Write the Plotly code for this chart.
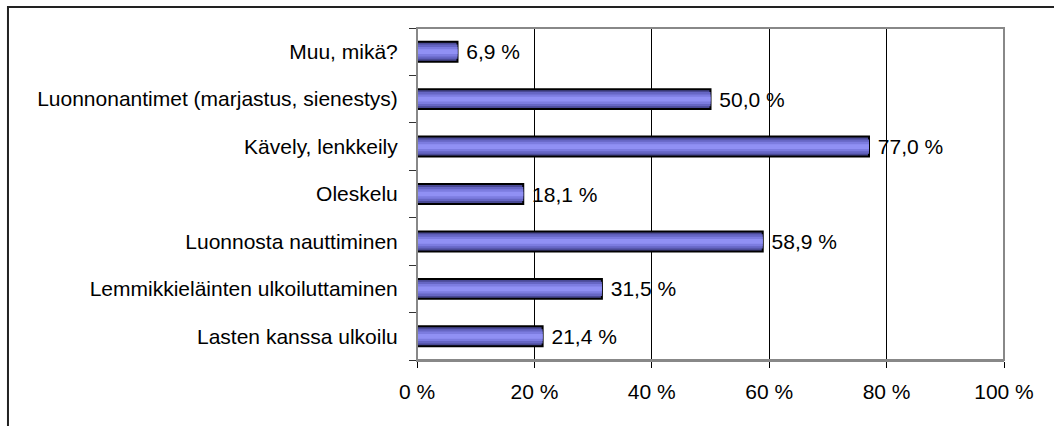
import plotly.graph_objects as go

# Categories listed bottom to top (as they appear on the chart)
categories = [
    'Lasten kanssa ulkoilu',
    'Lemmikkieläinten ulkoiluttaminen',
    'Luonnosta nauttiminen',
    'Oleskelu',
    'Kävely, lenkkeily',
    'Luonnonantimet (marjastus, sienestys)',
    'Muu, mikä?',
]
values = [21.4, 31.5, 58.9, 18.1, 77.0, 50.0, 6.9]
value_labels = ['\u00a0' + f'{v:.1f} %'.replace('.', ',') for v in values]

x_ticks = [0, 20, 40, 60, 80, 100]
x_tick_labels = ['0 %', '20 %', '40 %', '60 %', '80 %', '100 %']

FONT = 'Liberation Sans, Arial, sans-serif'
FS = 21

fig = go.Figure()

# base bar with dark edges and black outline, then lighter bands on top to fake the gradient
fig.add_trace(go.Bar(
    y=categories, x=values, orientation='h', width=0.42,
    marker=dict(color='#4a4a96', line=dict(color='black', width=2)),
    text=value_labels, textposition='outside', cliponaxis=False,
    constraintext='none',
    textfont=dict(size=FS, color='black', family=FONT),
    hoverinfo='skip',
))
for w, c in [(0.3, '#6666c4'), (0.2, '#7c7ce0'), (0.1, '#9090f4')]:
    fig.add_trace(go.Bar(
        y=categories, x=values, orientation='h', width=w,
        marker=dict(color=c, line=dict(width=0)),
        hoverinfo='skip',
    ))

fig.update_layout(
    width=1054, height=426,
    margin=dict(l=417, r=50, t=28, b=66),
    barmode='overlay',
    showlegend=False,
    plot_bgcolor='white',
    paper_bgcolor='white',
    font=dict(family=FONT, size=FS, color='black'),
    xaxis=dict(
        range=[0, 100],
        tickvals=x_ticks, ticktext=x_tick_labels,
        showgrid=True, gridcolor='black', gridwidth=1,
        zeroline=False,
        showline=True, linecolor='#888888', linewidth=2,
        ticks='outside', ticklen=6, tickcolor='black',
        ticklabelstandoff=6,
        tickfont=dict(size=FS),
    ),
    yaxis=dict(
        type='category',
        showgrid=False, zeroline=False,
        showline=True, linecolor='#333333', linewidth=1,
        ticks='outside', ticklen=7, tickcolor='#333333',
        tickson='boundaries',
        ticklabelstandoff=14,
        tickfont=dict(size=FS),
    ),
    shapes=[
        # grey frame around the plot area
        dict(type='rect', xref='paper', yref='paper', x0=0, x1=1, y0=0, y1=1,
             line=dict(color='#888888', width=2), layer='above'),
        # outer chart border (only top and left edges visible)
        dict(type='rect', xref='paper', yref='paper',
             x0=-0.6968, x1=1.1, y0=-0.3, y1=1.0633,
             line=dict(color='#222222', width=2), layer='below'),
    ],
)

# drop the default 8px body margin so the figure sits at the window corner
fig.write_html('out.html', config={'displayModeBar': False},
               post_script="document.body.style.margin='0';")
